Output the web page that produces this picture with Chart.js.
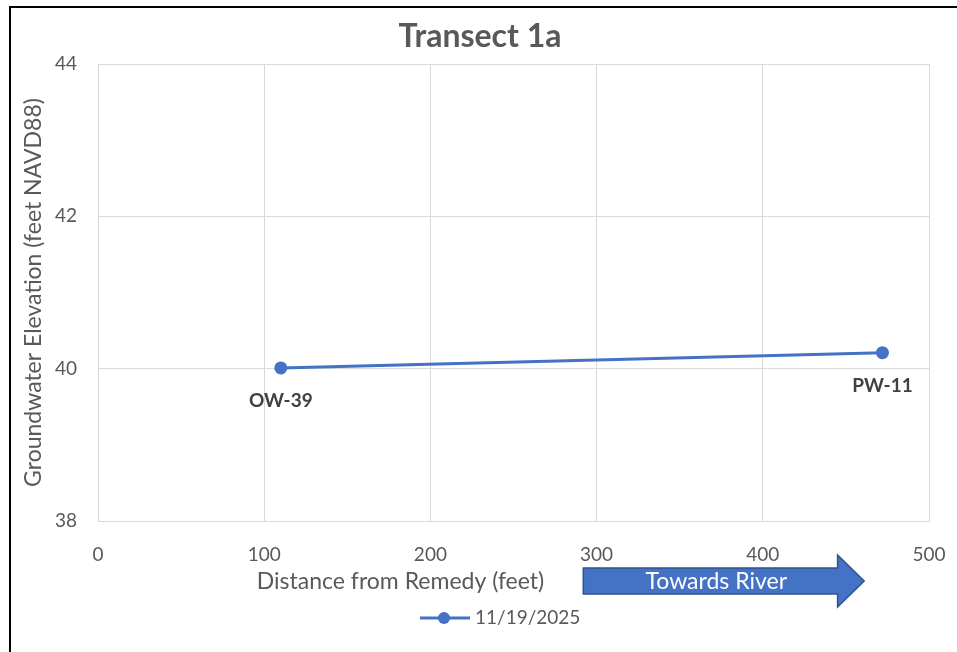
<!DOCTYPE html>
<html lang="en">
<head>
<meta charset="UTF-8">
<title>Transect 1a</title>
<script src="https://cdn.jsdelivr.net/npm/chart.js"></script>
<style>
    html, body { margin: 0; padding: 0; background: #fff; overflow: hidden; }
    #wrap { position: relative; width: 957px; height: 652px; }
    #frame { position: absolute; left: 9px; top: 6px; width: 1000px; height: 700px; border: 2px solid #000; }
    canvas { position: absolute; left: 0; top: 0; }
</style>
</head>
<body>
<div id="wrap">
    <div id="frame"></div>
    <canvas id="myChart" width="957" height="652"></canvas>
</div>
<script>
    // data
    const wellNames = ['OW-39', 'PW-11'];
    const distances = [110, 472];
    const elevations = [40.01, 40.21];
    const seriesName = '11/19/2025';
    const xTicks = [0, 100, 200, 300, 400, 500];
    const yTicks = [38, 40, 42, 44];

    const blue = '#4472C4';
    const grey = '#595959';
    const fontFamily = 'Lato, "Open Sans", sans-serif';

    // labels under the points
    const wellLabelPlugin = {
        id: 'wellLabels',
        afterDatasetsDraw(chart) {
            const ctx = chart.ctx;
            const meta = chart.getDatasetMeta(0);
            ctx.save();
            ctx.font = 'bold 19px ' + fontFamily;
            ctx.fillStyle = '#404040';
            ctx.textAlign = 'center';
            ctx.textBaseline = 'middle';
            meta.data.forEach((pt, i) => {
                ctx.fillText(wellNames[i], pt.x, pt.y + 33);
            });
            ctx.restore();
        }
    };

    // chart title, x axis title, "Towards River" arrow, legend
    const extrasPlugin = {
        id: 'extras',
        afterDraw(chart) {
            const ctx = chart.ctx;
            const xs = chart.scales.x;
            const b = chart.chartArea.bottom;
            ctx.save();
            ctx.textAlign = 'center';
            ctx.textBaseline = 'middle';

            ctx.fillStyle = grey;
            ctx.font = 'bold 32px ' + fontFamily;
            ctx.fillText('Transect 1a', 480, 37);

            ctx.font = '23px ' + fontFamily;
            ctx.fillText('Distance from Remedy (feet)', xs.getPixelForValue(182), b + 61);

            const x0 = xs.getPixelForValue(292);
            const x1 = xs.getPixelForValue(445);
            const x2 = xs.getPixelForValue(461);
            ctx.beginPath();
            ctx.moveTo(x0, b + 47);
            ctx.lineTo(x1, b + 47);
            ctx.lineTo(x1, b + 34);
            ctx.lineTo(x2, b + 60);
            ctx.lineTo(x1, b + 86);
            ctx.lineTo(x1, b + 73);
            ctx.lineTo(x0, b + 73);
            ctx.closePath();
            ctx.fillStyle = blue;
            ctx.fill();
            ctx.lineWidth = 1.5;
            ctx.strokeStyle = '#2F528F';
            ctx.stroke();
            ctx.fillStyle = '#fff';
            ctx.font = '23px ' + fontFamily;
            ctx.fillText('Towards River', xs.getPixelForValue(372), b + 61);

            // legend
            const ly = 618;
            ctx.strokeStyle = blue;
            ctx.lineWidth = 3;
            ctx.beginPath();
            ctx.moveTo(420, ly);
            ctx.lineTo(470, ly);
            ctx.stroke();
            ctx.fillStyle = blue;
            ctx.beginPath();
            ctx.arc(444, ly, 6, 0, Math.PI * 2);
            ctx.fill();
            ctx.fillStyle = grey;
            ctx.font = '19px ' + fontFamily;
            ctx.textAlign = 'left';
            ctx.fillText(seriesName, 475, ly);
            ctx.restore();
        }
    };

    const data = {
        datasets: [{
            label: seriesName,
            data: distances.map((d, i) => ({ x: d, y: elevations[i] })),
            borderColor: blue,
            backgroundColor: blue,
            borderWidth: 3,
            pointRadius: 6.5,
            pointHoverRadius: 6.5,
            pointBorderWidth: 0
        }]
    };

    const config = {
        type: 'line',
        data,
        options: {
            responsive: false,
            animation: false,
            layout: { padding: { left: 0, right: 28, top: 64, bottom: 61 } },
            plugins: {
                legend: { display: false },
                tooltip: { enabled: false },
                title: { display: false }
            },
            scales: {
                x: {
                    type: 'linear',
                    min: 0,
                    max: 500,
                    afterBuildTicks: s => { s.ticks = xTicks.map(v => ({ value: v })); },
                    afterFit: s => { s.height = 70; s.paddingLeft = 0; s.paddingRight = 0; },
                    grid: { color: '#d9d9d9', drawTicks: false },
                    border: { color: '#d9d9d9' },
                    ticks: { color: grey, padding: 22, font: { family: fontFamily, size: 19 } }
                },
                y: {
                    min: 38,
                    max: 44,
                    afterBuildTicks: s => { s.ticks = yTicks.map(v => ({ value: v })); },
                    afterFit: s => { s.width = 98; s.paddingTop = 0; s.paddingBottom = 0; },
                    grid: { color: '#d9d9d9', drawTicks: false },
                    border: { color: '#d9d9d9' },
                    ticks: { color: grey, padding: 21, font: { family: fontFamily, size: 19 } },
                    title: {
                        display: true,
                        text: 'Groundwater Elevation (feet NAVD88)',
                        color: grey,
                        font: { family: fontFamily, size: 23 },
                        padding: { top: 20 }
                    }
                }
            }
        },
        plugins: [wellLabelPlugin, extrasPlugin]
    };

    const myChart = new Chart(document.getElementById('myChart'), config);
</script>
</body>
</html>
